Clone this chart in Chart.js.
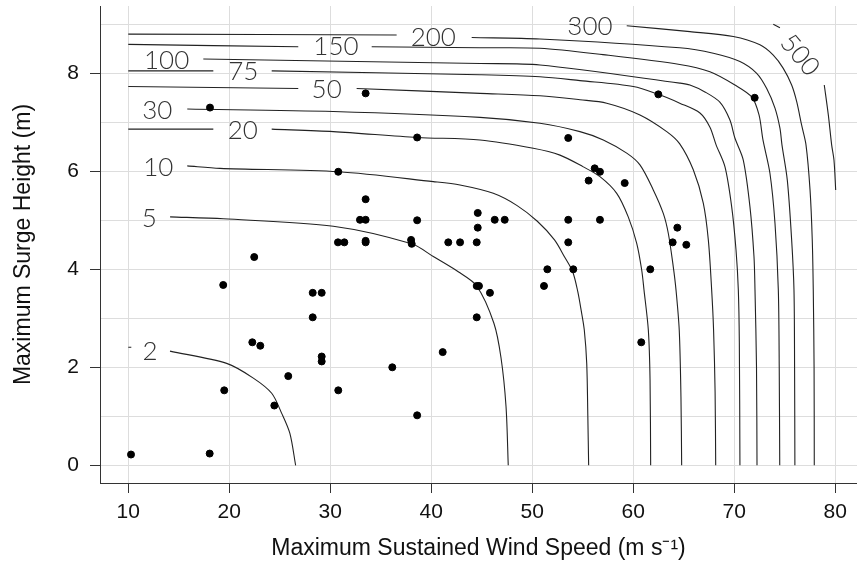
<!DOCTYPE html>
<html>
<head>
<meta charset="utf-8">
<script src="https://cdn.jsdelivr.net/npm/chart.js@4.4.1/dist/chart.umd.min.js"></script>
<style>
  html, body { margin: 0; padding: 0; background: #fff; }
  #wrap { width: 857px; height: 567px; }
</style>
</head>
<body>
<div id="wrap"><canvas id="surgeChart"></canvas></div>
<script>
// storm observations
const windSpeed = [10.27, 18.06, 18.09, 19.4, 19.5, 22.28, 22.47, 23.07, 24.46, 25.84,
  28.26, 28.26, 29.15, 29.15, 29.15, 30.79, 30.79, 30.76, 31.39, 32.94,
  33.5, 33.5, 33.5, 33.5, 33.5, 36.14, 38.0, 38.06, 38.6, 38.6,
  38.6, 41.13, 41.68, 42.85, 44.5, 44.6, 44.6, 44.5, 44.72, 44.5,
  45.81, 46.28, 47.27, 51.16, 51.49, 53.56, 53.56, 53.56, 54.06, 55.58,
  56.18, 56.7, 56.7, 59.15, 60.79, 61.68, 62.48, 63.9, 64.36, 65.25, 72.02];
const surgeHeight = [0.22, 0.24, 7.3, 3.68, 1.53, 2.51, 4.25, 2.44, 1.22, 1.82,
  3.52, 3.02, 3.52, 2.22, 2.12, 1.53, 5.99, 4.55, 4.55, 5.01,
  5.01, 5.43, 4.58, 4.55, 7.59, 2.0, 4.6, 4.52, 5.0, 6.69,
  1.02, 2.31, 4.55, 4.55, 4.55, 5.15, 4.85, 3.66, 3.66, 3.02,
  3.52, 5.01, 5.01, 3.66, 4.0, 5.01, 4.55, 6.68, 4.0, 5.81,
  6.06, 5.99, 5.01, 5.76, 2.51, 4.0, 7.57, 4.55, 4.85, 4.5, 7.5];

// contour lines (null = gap where the label sits)
const contour2 = [[10.0,2.41],[10.3,2.41],null,[14.13,2.33],[19.74,2.08],[22.38,1.78],[24.2,1.47],[25.19,1.06],[26.0,0.65],[26.57,0]];
const contour5 = [[14.14,5.07],[19.41,5.03],[30.3,4.88],[38.06,4.52],[40.2,4.26],[42.67,3.95],[44.5,3.66],[46.2,2.9],[46.9,2.2],[47.4,1.2],[47.62,0]];
const contour10 = [[15.84,6.11],[19.08,6.06],[30.83,5.99],[40.2,5.79],[42.84,5.72],[46.14,5.55],[48.5,5.3],[50.5,4.98],[52.2,4.6],[53.2,4.25],[54.0,3.95],[54.5,3.55],[54.85,3.15],[55.15,2.76],[55.39,2.08],[55.5,1.0],[55.58,0]];
const contour20 = [[10,6.86],[18.42,6.86],null,[24.2,6.86],[30.3,6.81],[38.61,6.69],[44.82,6.64],[50.1,6.47],[52.74,6.33],[55.05,6.09],[56.7,5.89],[58.36,5.55],[59.5,5.07],[60.34,4.53],[60.83,3.99],[61.06,3.58],[61.49,2.76],[61.66,1.74],[61.72,0]];
const contour30 = [[15.84,7.27],[30.3,7.22],[44.82,7.1],[50.76,6.98],[54.72,6.81],[57.03,6.64],[59.35,6.37],[60.66,6.13],[61.98,5.62],[62.97,5.14],[63.47,4.73],[63.96,4.05],[64.23,3.58],[64.55,2.76],[64.72,1.4],[64.79,0]];
const contour50 = [[10,7.73],[26.83,7.69],null,[32.61,7.69],[44.82,7.59],[50.76,7.54],[54.72,7.46],[57.37,7.39],[60.66,7.15],[63.31,6.81],[64.6,6.56],[65.94,6.03],[66.93,5.35],[67.43,4.6],[67.76,3.58],[67.95,2.76],[68.1,1.5],[68.16,0]];
const contour75 = [[10,8.05],[18.42,8.05],null,[24.2,8.05],[44.82,7.97],[50.76,7.93],[54.72,7.85],[60.0,7.73],[62.48,7.57],[64.6,7.39],[66.6,7.19],[67.59,6.9],[68.2,6.54],[69.08,6.09],[69.74,5.28],[70.17,4.4],[70.4,3.58],[70.5,2.5],[70.56,0]];
const contour100 = [[17.43,8.29],[44.82,8.2],[50.76,8.17],[64.6,7.8],[65.61,7.76],[67.09,7.62],[68.57,7.41],[69.56,7.05],[70.06,6.68],[70.89,6.23],[71.55,5.28],[71.95,4.26],[72.05,3.58],[72.2,2.0],[72.25,0]];
const contour150 = [[10,8.59],[26.83,8.54],null,[34.1,8.54],[44.82,8.52],[50.76,8.51],[57.0,8.38],[64.6,8.18],[67.59,8.03],[70.06,7.76],[71.75,7.51],[72.45,7.15],[72.84,6.64],[73.53,5.96],[74.03,4.94],[74.36,3.58],[74.45,2.0],[74.5,0]];
const contour200 = [[10,8.8],[36.57,8.78],null,[44.0,8.73],[50.76,8.7],[64.6,8.52],[67.92,8.41],[70.56,8.24],[72.22,8.0],[73.21,7.69],[74.03,7.29],[74.52,6.88],[74.72,6.54],[75.25,5.82],[75.68,4.6],[75.91,3.58],[75.97,2.0],[76.0,0]];
const contour300 = [[53.7,9.0],[54.2,8.99],null,[59.35,8.97],[65.61,8.85],[69.9,8.75],[72.54,8.58],[73.86,8.37],[74.85,8.1],[75.68,7.76],[76.18,7.42],[76.67,6.94],[77.1,6.54],[77.5,5.62],[77.72,4.6],[77.82,3.58],[77.9,2.0],[77.92,0]];
const contour500 = [[73.86,9.0],[74.52,8.93],null,[78.91,7.76],[79.31,7.15],[79.64,6.54],[79.87,6.23],[80.04,5.62]];

const contourLines = [contour2, contour5, contour10, contour20, contour30, contour50,
  contour75, contour100, contour150, contour200, contour300, contour500];

// contour labels
const labelText = ['2', '5', '10', '20', '30', '50', '75', '100', '150', '200', '300', '500'];
const labelX = [12.15, 12.08, 12.97, 21.33, 12.87, 29.64, 21.39, 13.8, 30.56, 40.2, 55.71, 76.5];
const labelY = [2.32, 5.04, 6.08, 6.84, 7.23, 7.67, 8.03, 8.26, 8.54, 8.73, 8.95, 8.37];
const labelAngle = [0, 0, 0, 0, 0, 0, 0, 0, 0, 0, 0, 50];

const xTicks = [10, 20, 30, 40, 50, 60, 70, 80];
const yTicks = [0, 1, 2, 3, 4, 5, 6, 7, 8, 9];

// scatter points
const pointData = windSpeed.map((w, i) => ({ x: w, y: surgeHeight[i] }));

const datasets = [{
  type: 'scatter',
  data: pointData,
  backgroundColor: '#000',
  borderColor: '#000',
  pointRadius: 3.5,
  pointHoverRadius: 3.5,
  order: 0
}];

contourLines.forEach(function (line) {
  datasets.push({
    type: 'line',
    data: line.map(p => p ? { x: p[0], y: p[1] } : { x: null, y: null }),
    borderColor: '#222',
    borderWidth: 1.1,
    pointRadius: 0,
    tension: 0.3,
    fill: false,
    spanGaps: false,
    order: 1
  });
});

// draws the level numbers on the contours
const contourLabelPlugin = {
  id: 'contourLabels',
  afterDatasetsDraw(chart) {
    const ctx = chart.ctx;
    const xs = chart.scales.x, ys = chart.scales.y;
    ctx.save();
    ctx.font = '300 26px Lato';
    ctx.fillStyle = '#333';
    ctx.textAlign = 'center';
    ctx.textBaseline = 'middle';
    labelText.forEach(function (t, i) {
      ctx.save();
      ctx.translate(xs.getPixelForValue(labelX[i]), ys.getPixelForValue(labelY[i]));
      ctx.rotate(labelAngle[i] * Math.PI / 180);
      ctx.fillText(t, 0, 0);
      ctx.restore();
    });
    ctx.restore();
  }
};

const ctx = document.getElementById('surgeChart');
const surgeChart = new Chart(ctx, {
  data: { datasets: datasets },
  plugins: [contourLabelPlugin],
  options: {
    responsive: true,
    maintainAspectRatio: false,
    animation: false,
    devicePixelRatio: 1,
    layout: { autoPadding: false, padding: { top: 6, right: 0, left: 0, bottom: 0 } },
    plugins: {
      legend: { display: false },
      tooltip: { enabled: false }
    },
    scales: {
      x: {
        type: 'linear',
        min: 7.2,
        max: 82.15,
        afterBuildTicks: s => { s.ticks = xTicks.map(v => ({ value: v })); },
        afterFit: s => { s.height = 84; s.paddingLeft = 0; s.paddingRight = 0; },
        grid: { color: '#dddddd', tickLength: 10, tickColor: '#333' },
        border: { color: '#333', width: 1 },
        ticks: { color: '#111', font: { family: 'Liberation Sans', size: 21 }, padding: 7, maxRotation: 0 },
        title: {
          display: true,
          text: 'Maximum Sustained Wind Speed (m s\u207B\u00B9)',
          color: '#111',
          font: { family: 'Liberation Sans', size: 23 },
          padding: { top: 0, bottom: 5 }
        }
      },
      y: {
        type: 'linear',
        min: -0.361,
        max: 9.373,
        afterBuildTicks: s => { s.ticks = yTicks.map(v => ({ value: v })); },
        afterFit: s => { s.width = 100; s.paddingTop = 0; s.paddingBottom = 0; },
        grid: {
          color: '#dddddd',
          tickLength: 10,
          tickColor: c => (c.tick && c.tick.value % 2 === 0) ? '#333' : 'rgba(0,0,0,0)'
        },
        border: { color: '#333', width: 1 },
        ticks: {
          color: '#111',
          autoSkip: false,
          font: { family: 'Liberation Sans', size: 21 },
          padding: 11,
          callback: v => (v % 2 === 0 ? String(v) : '')
        },
        title: {
          display: true,
          text: 'Maximum Surge Height (m)',
          color: '#111',
          font: { family: 'Liberation Sans', size: 23 },
          padding: { top: 10, bottom: 0 }
        }
      }
    }
  }
});
</script>
</body>
</html>
